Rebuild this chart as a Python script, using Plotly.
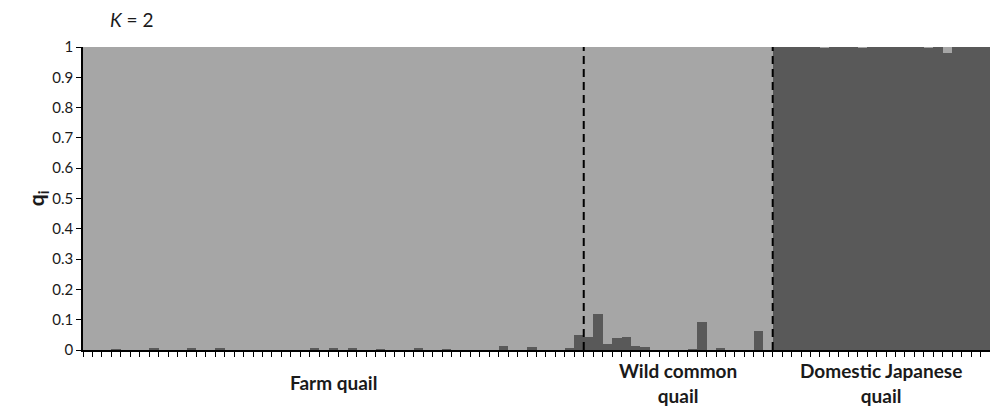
import plotly.graph_objects as go

# Population groups and number of individuals
groups = ["Farm quail", "Wild common<br>quail", "Domestic Japanese<br>quail"]
group_sizes = [53, 20, 23]

# Membership coefficient (q) of the dark cluster for every individual, in plot order
q_dark_farm = [0, 0, 0, 0.003, 0, 0, 0, 0.007, 0, 0, 0, 0.007, 0, 0, 0.005, 0,
               0, 0, 0, 0, 0, 0, 0, 0, 0.005, 0, 0.005, 0, 0.007, 0, 0, 0.003,
               0, 0, 0, 0.007, 0, 0, 0.003, 0, 0, 0, 0, 0, 0.013, 0, 0, 0.01,
               0, 0, 0, 0.006, 0.05]
q_dark_wild = [0.043, 0.119, 0.021, 0.04, 0.043, 0.012, 0.009, 0, 0, 0,
               0, 0.004, 0.093, 0, 0.008, 0, 0, 0, 0.064, 0]
q_dark_domestic = [1, 1, 1, 1, 1, 0.997, 1, 1, 1, 0.997, 1, 1,
                   1, 1, 1, 1, 0.997, 1, 0.981, 1, 1, 1, 1]

y_ticks = [0, 0.1, 0.2, 0.3, 0.4, 0.5, 0.6, 0.7, 0.8, 0.9, 1]
y_ticktext = ["0", "0.1", "0.2", "0.3", "0.4", "0.5", "0.6", "0.7", "0.8", "0.9", "1"]

q_dark = q_dark_farm + q_dark_wild + q_dark_domestic
q_light = [1 - v for v in q_dark]
n = len(q_dark)
xpos = [i + 0.5 for i in range(n)]

DARK = "#595959"
LIGHT = "#a6a6a6"
FONT = "Lato"
TXT = "#1a1a1a"

fig = go.Figure()
fig.add_trace(go.Bar(x=xpos, y=q_dark, marker=dict(color=DARK, line=dict(width=0)),
                     width=1, showlegend=False))
fig.add_trace(go.Bar(x=xpos, y=q_light, marker=dict(color=LIGHT, line=dict(width=0)),
                     width=1, showlegend=False))

# group boundaries
bounds = []
acc = 0
for s in group_sizes:
    bounds.append((acc, acc + s))
    acc += s

for (a, b) in bounds[:-1]:
    fig.add_shape(type="line", x0=b, x1=b, y0=0, y1=1, xref="x", yref="y",
                  line=dict(color="black", width=2, dash="8px,5px"), layer="above")

for g, (a, b) in zip(groups, bounds):
    fig.add_annotation(x=(a + b) / 2, y=-0.108, xref="x", yref="paper",
                       text="<b>" + g + "</b>", showarrow=False,
                       font=dict(family=FONT, size=19, color=TXT),
                       yanchor="middle", align="center")

fig.add_annotation(x=-0.051, y=0.5, xref="paper", yref="paper",
                   text="<b>q<sub>i</sub></b>", showarrow=False, textangle=-90,
                   font=dict(family=FONT, size=21, color=TXT),
                   xanchor="center", yanchor="middle")

fig.update_layout(
    width=990, height=410,
    margin=dict(l=83, r=0, t=47, b=60, autoexpand=False),
    barmode="stack", bargap=0,
    plot_bgcolor="white", paper_bgcolor="white",
    title=dict(text="<i>K</i> = 2", x=110 / 990, xanchor="left", y=1 - 20 / 410,
               yanchor="middle", font=dict(family=FONT, size=19, color=TXT)),
    xaxis=dict(range=[0, n], tickmode="array", tickvals=list(range(n + 1)),
               showticklabels=False, ticks="outside", ticklen=5, tickwidth=1,
               tickcolor="black", showline=True, linecolor="black", linewidth=1.5,
               showgrid=False, zeroline=False, fixedrange=True, automargin=False),
    yaxis=dict(range=[0, 1], tickmode="array", tickvals=y_ticks, ticktext=y_ticktext,
               ticks="outside", ticklen=5, tickwidth=1, tickcolor="black",
               showline=True, linecolor="black", linewidth=1.5, showgrid=False,
               zeroline=False, tickfont=dict(family=FONT, size=15, color=TXT),
               fixedrange=True, automargin=False),
    font=dict(family=FONT),
)
fig.update_yaxes(tickprefix="<b>", ticksuffix="</b>")

fig.write_html("out.html", config={"displayModeBar": False},
               post_script="document.body.style.margin='0';document.body.style.overflow='hidden';")
